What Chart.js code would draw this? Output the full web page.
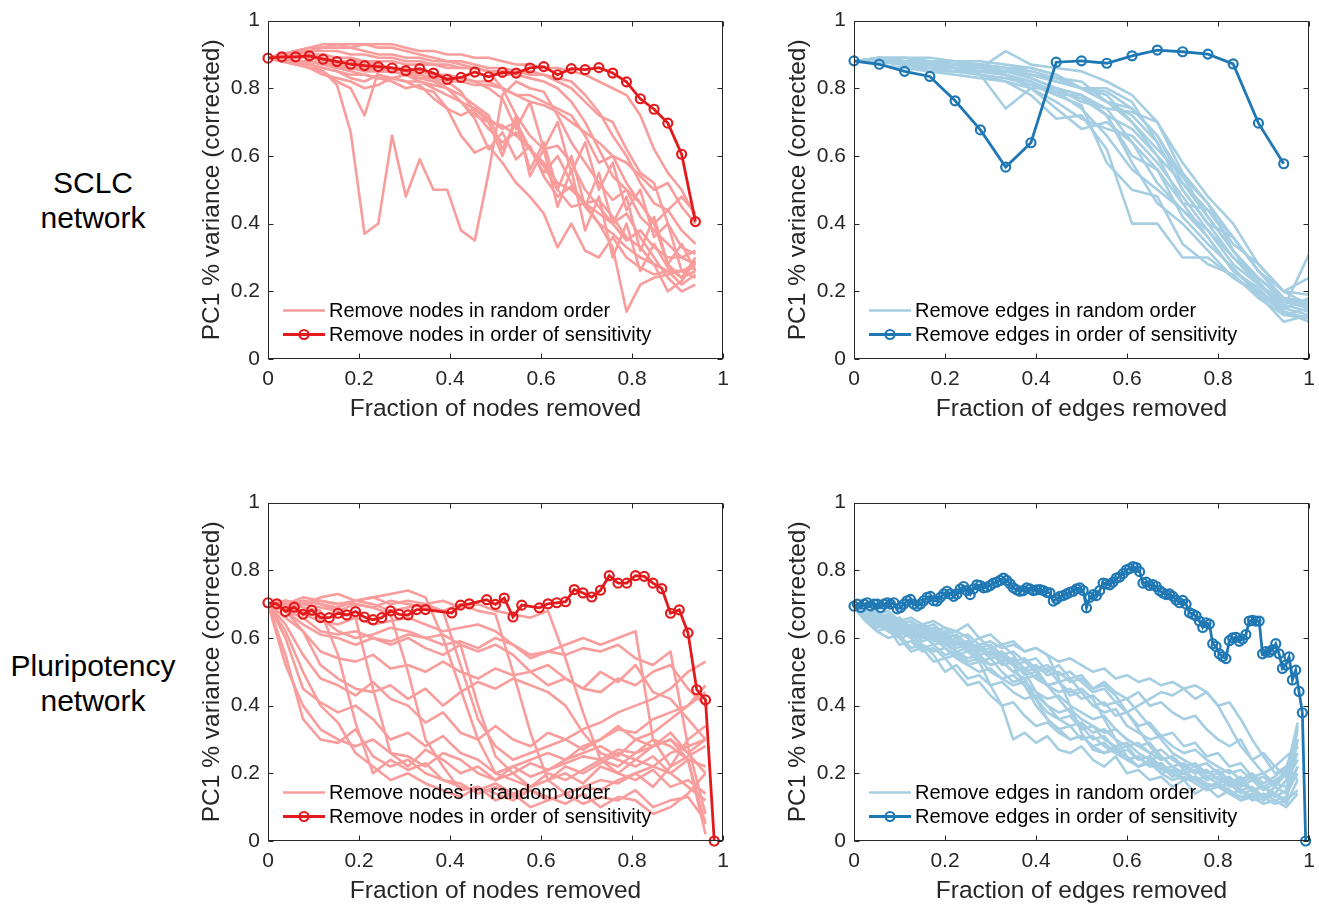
<!DOCTYPE html>
<html>
<head>
<meta charset="utf-8">
<title>PC1 variance under node and edge removal</title>
<script src="https://cdn.jsdelivr.net/npm/chart.js@4.4.1/dist/chart.umd.min.js"></script>
<style>
  body { margin: 0; background: #fff; width: 1319px; height: 908px; position: relative; overflow: hidden;
         font-family: "Liberation Sans", Arial, sans-serif; }
  canvas { position: absolute; }
  .rowLabel { position: absolute; left: 0; width: 186px; text-align: center; font-size: 30px;
              line-height: 35px; color: #000; }
</style>
</head>
<body>
<div class="rowLabel" style="top:165px">SCLC<br>network</div>
<div class="rowLabel" style="top:648px">Pluripotency<br>network</div>
<canvas id="sclcNodes" width="538" height="421" style="left:200px;top:0"></canvas>
<canvas id="sclcEdges" width="538" height="421" style="left:786px;top:0"></canvas>
<canvas id="pluriNodes" width="538" height="421" style="left:200px;top:482px"></canvas>
<canvas id="pluriEdges" width="538" height="421" style="left:786px;top:482px"></canvas>

<script>
// axis ticks shared by every panel
const axisTicks = [0, 0.2, 0.4, 0.6, 0.8, 1];
const axisTickLabels = ['0', '0.2', '0.4', '0.6', '0.8', '1'];

// fraction removed at each step = step / total
const grid = (total, count, every = 1) =>
  Array.from({ length: count }, (_, k) => (k * every) / total);

// ---- SCLC, nodes (33 nodes) ----
const sclcNodeX = grid(33, 32);
const sclcNodeSensitivity = [0.889, 0.893, 0.893, 0.896, 0.886, 0.879, 0.871, 0.867, 0.864, 0.860, 0.852, 0.858,
  0.845, 0.826, 0.832, 0.848, 0.834, 0.847, 0.845, 0.860, 0.864, 0.840, 0.858, 0.855, 0.861, 0.845, 0.819, 0.769,
  0.738, 0.697, 0.605, 0.406];
const sclcNodeRandom = [
  [0.89,0.89,0.88,0.86,0.85,0.81,0.67,0.37,0.40,0.66,0.48,0.59,0.50,0.50,0.38,0.35,0.55,0.78,0.82,0.80,0.79,0.72,0.64,0.58,0.52,0.47,0.50,0.42,0.38,0.34,0.30,0.28],
  [0.89,0.88,0.88,0.87,0.85,0.82,0.80,0.72,0.85,0.86,0.85,0.84,0.83,0.80,0.76,0.72,0.70,0.69,0.66,0.62,0.57,0.50,0.45,0.46,0.40,0.37,0.33,0.30,0.28,0.26,0.26,0.27],
  [0.89,0.90,0.91,0.92,0.93,0.93,0.92,0.93,0.93,0.93,0.92,0.91,0.91,0.90,0.90,0.89,0.89,0.88,0.87,0.87,0.86,0.86,0.85,0.84,0.82,0.80,0.78,0.72,0.62,0.55,0.50,0.42],
  [0.89,0.90,0.91,0.91,0.92,0.92,0.92,0.91,0.90,0.90,0.89,0.89,0.88,0.88,0.87,0.86,0.85,0.80,0.72,0.66,0.62,0.63,0.58,0.50,0.45,0.40,0.43,0.36,0.30,0.24,0.20,0.22],
  [0.89,0.89,0.90,0.90,0.89,0.88,0.88,0.87,0.87,0.86,0.86,0.85,0.84,0.82,0.79,0.73,0.68,0.64,0.67,0.62,0.55,0.60,0.52,0.45,0.40,0.33,0.14,0.22,0.24,0.25,0.26,0.28],
  [0.89,0.89,0.88,0.88,0.87,0.86,0.85,0.84,0.83,0.82,0.80,0.81,0.77,0.74,0.72,0.74,0.70,0.60,0.72,0.54,0.62,0.45,0.56,0.38,0.48,0.30,0.40,0.26,0.34,0.27,0.24,0.26],
  [0.89,0.88,0.87,0.86,0.84,0.83,0.82,0.80,0.81,0.83,0.84,0.83,0.82,0.80,0.76,0.71,0.62,0.67,0.59,0.63,0.54,0.48,0.51,0.46,0.43,0.40,0.35,0.38,0.33,0.30,0.30,0.32],
  [0.89,0.90,0.90,0.91,0.91,0.91,0.90,0.90,0.89,0.89,0.88,0.88,0.87,0.87,0.86,0.86,0.85,0.84,0.84,0.83,0.82,0.80,0.76,0.70,0.62,0.54,0.50,0.46,0.40,0.44,0.38,0.34],
  [0.89,0.89,0.89,0.89,0.89,0.88,0.88,0.88,0.87,0.86,0.85,0.85,0.84,0.84,0.83,0.82,0.80,0.77,0.68,0.76,0.62,0.70,0.55,0.64,0.50,0.58,0.44,0.50,0.36,0.40,0.26,0.24],
  [0.89,0.90,0.90,0.90,0.90,0.89,0.89,0.88,0.88,0.88,0.87,0.87,0.87,0.86,0.86,0.86,0.85,0.85,0.85,0.84,0.84,0.83,0.82,0.78,0.73,0.66,0.60,0.52,0.46,0.44,0.48,0.43],
  [0.89,0.88,0.88,0.87,0.86,0.85,0.84,0.84,0.83,0.83,0.82,0.80,0.79,0.74,0.66,0.61,0.63,0.58,0.52,0.48,0.43,0.33,0.40,0.32,0.30,0.36,0.30,0.27,0.25,0.26,0.22,0.25],
  [0.89,0.89,0.90,0.89,0.88,0.87,0.86,0.86,0.85,0.85,0.84,0.84,0.83,0.83,0.83,0.82,0.82,0.80,0.78,0.78,0.76,0.74,0.72,0.66,0.58,0.60,0.52,0.46,0.40,0.28,0.24,0.30],
  [0.89,0.88,0.88,0.88,0.87,0.87,0.86,0.86,0.86,0.85,0.84,0.82,0.80,0.78,0.76,0.74,0.71,0.68,0.70,0.62,0.58,0.52,0.50,0.46,0.47,0.42,0.36,0.33,0.28,0.20,0.23,0.29],
  [0.89,0.90,0.91,0.92,0.92,0.93,0.93,0.93,0.92,0.92,0.91,0.90,0.89,0.88,0.88,0.87,0.86,0.86,0.85,0.85,0.84,0.82,0.80,0.76,0.72,0.70,0.62,0.55,0.52,0.40,0.33,0.31],
  [0.89,0.88,0.87,0.87,0.86,0.85,0.83,0.82,0.84,0.83,0.82,0.82,0.81,0.80,0.78,0.75,0.72,0.62,0.70,0.56,0.64,0.50,0.60,0.45,0.55,0.40,0.48,0.32,0.42,0.28,0.34,0.26],
  [0.89,0.89,0.88,0.88,0.87,0.86,0.86,0.85,0.85,0.85,0.84,0.83,0.83,0.82,0.82,0.81,0.81,0.80,0.78,0.76,0.75,0.73,0.70,0.67,0.64,0.60,0.58,0.54,0.50,0.52,0.45,0.40]
];

// ---- SCLC, edges ----
const sclcEdgeX = grid(18, 19);
const sclcEdgeSensitivity = [0.881, 0.871, 0.850, 0.835, 0.763, 0.677, 0.567, 0.639, 0.877, 0.881, 0.874, 0.896,
  0.913, 0.908, 0.901, 0.872, 0.697, 0.577];
const sclcEdgeRandom = [
  [0.88,0.89,0.88,0.86,0.85,0.84,0.74,0.80,0.80,0.78,0.72,0.60,0.56,0.46,0.36,0.26,0.20,0.15,0.13],
  [0.88,0.89,0.89,0.89,0.88,0.88,0.87,0.86,0.84,0.80,0.76,0.72,0.64,0.50,0.40,0.30,0.22,0.17,0.15],
  [0.88,0.88,0.87,0.85,0.84,0.83,0.82,0.78,0.71,0.72,0.62,0.40,0.40,0.30,0.30,0.24,0.19,0.14,0.12],
  [0.88,0.88,0.87,0.86,0.86,0.86,0.91,0.87,0.86,0.85,0.82,0.78,0.70,0.55,0.46,0.36,0.26,0.18,0.17],
  [0.88,0.89,0.88,0.88,0.87,0.86,0.85,0.83,0.80,0.76,0.74,0.73,0.70,0.58,0.48,0.40,0.28,0.20,0.16],
  [0.88,0.88,0.88,0.87,0.86,0.85,0.84,0.81,0.78,0.75,0.58,0.50,0.48,0.34,0.28,0.25,0.18,0.13,0.12],
  [0.88,0.88,0.88,0.88,0.88,0.87,0.86,0.84,0.82,0.80,0.76,0.74,0.66,0.52,0.42,0.32,0.22,0.15,0.31],
  [0.88,0.88,0.87,0.87,0.86,0.84,0.82,0.80,0.76,0.71,0.68,0.66,0.58,0.48,0.38,0.28,0.22,0.16,0.14],
  [0.88,0.88,0.87,0.86,0.85,0.85,0.84,0.82,0.78,0.78,0.72,0.68,0.60,0.46,0.44,0.36,0.26,0.18,0.15],
  [0.88,0.88,0.88,0.88,0.87,0.87,0.86,0.86,0.84,0.80,0.78,0.70,0.62,0.54,0.46,0.32,0.24,0.17,0.16],
  [0.88,0.88,0.88,0.87,0.86,0.86,0.85,0.83,0.80,0.78,0.74,0.64,0.56,0.42,0.34,0.27,0.19,0.11,0.13],
  [0.88,0.89,0.89,0.88,0.87,0.86,0.86,0.84,0.83,0.80,0.80,0.76,0.64,0.50,0.40,0.36,0.26,0.20,0.24],
  [0.88,0.88,0.88,0.87,0.87,0.86,0.84,0.82,0.79,0.77,0.72,0.58,0.46,0.40,0.32,0.24,0.20,0.15,0.18],
  [0.88,0.88,0.87,0.87,0.86,0.85,0.85,0.84,0.82,0.80,0.79,0.74,0.66,0.54,0.42,0.32,0.23,0.14,0.11],
  [0.88,0.89,0.88,0.87,0.86,0.85,0.84,0.80,0.74,0.68,0.70,0.64,0.52,0.44,0.38,0.30,0.24,0.18,0.16],
  [0.88,0.88,0.89,0.88,0.87,0.87,0.86,0.85,0.83,0.82,0.76,0.70,0.60,0.52,0.44,0.34,0.28,0.20,0.19],
  [0.88,0.87,0.86,0.85,0.85,0.84,0.83,0.81,0.79,0.74,0.66,0.56,0.50,0.44,0.36,0.26,0.21,0.13,0.15]
];

// ---- Pluripotency, nodes (52 nodes); null = step with no reading ----
const pluriNodeX = grid(52, 52);
const pluriNodeSensitivity = [0.704, 0.701, 0.678, 0.691, 0.670, 0.682, 0.660, 0.660, 0.673, 0.668, 0.678, 0.662,
  0.654, 0.660, 0.680, 0.670, 0.668, 0.684, 0.684, null, null, 0.674, 0.697, 0.701, null, 0.713, 0.699, 0.718,
  0.662, 0.697, null, 0.689, 0.701, 0.704, 0.707, 0.743, 0.733, 0.721, 0.741, 0.784, 0.762, 0.762, 0.784, 0.782,
  0.762, 0.746, 0.673, 0.683, 0.615, 0.447, 0.417, 0];
const pluriNodeRandomX = grid(52, 26, 2);
const pluriNodeRandom = [
  [0.70,0.55,0.36,0.30,0.29,0.33,0.25,0.22,0.24,0.20,0.18,0.16,0.15,0.17,0.14,0.16,0.18,0.20,0.17,0.22,0.20,0.24,0.22,0.26,0.28,0.30],
  [0.70,0.60,0.45,0.41,0.38,0.40,0.36,0.30,0.32,0.28,0.31,0.26,0.24,0.20,0.22,0.19,0.21,0.23,0.25,0.24,0.27,0.26,0.30,0.28,0.24,0.05],
  [0.70,0.71,0.69,0.68,0.55,0.35,0.20,0.24,0.21,0.23,0.18,0.17,0.14,0.16,0.13,0.15,0.12,0.14,0.16,0.15,0.18,0.20,0.16,0.22,0.30,0.34],
  [0.70,0.66,0.62,0.52,0.48,0.45,0.44,0.46,0.42,0.45,0.40,0.44,0.47,0.45,0.48,0.46,0.44,0.40,0.32,0.26,0.24,0.22,0.25,0.20,0.16,0.12],
  [0.70,0.68,0.62,0.56,0.54,0.53,0.55,0.51,0.52,0.50,0.53,0.50,0.48,0.51,0.49,0.50,0.52,0.48,0.45,0.44,0.48,0.46,0.50,0.52,0.45,0.40],
  [0.70,0.68,0.64,0.61,0.60,0.58,0.60,0.59,0.61,0.60,0.58,0.59,0.57,0.60,0.58,0.55,0.56,0.58,0.60,0.58,0.60,0.62,0.30,0.22,0.25,0.28],
  [0.70,0.71,0.70,0.72,0.73,0.71,0.72,0.73,0.74,0.72,0.60,0.45,0.30,0.20,0.18,0.16,0.20,0.18,0.21,0.24,0.22,0.26,0.28,0.30,0.26,0.20],
  [0.70,0.69,0.70,0.71,0.70,0.70,0.69,0.71,0.70,0.69,0.68,0.70,0.68,0.67,0.50,0.32,0.18,0.14,0.16,0.18,0.17,0.20,0.22,0.20,0.24,0.02],
  [0.70,0.70,0.68,0.66,0.62,0.60,0.61,0.63,0.62,0.60,0.61,0.58,0.40,0.25,0.20,0.23,0.21,0.24,0.26,0.28,0.25,0.30,0.32,0.36,0.40,0.44],
  [0.70,0.71,0.70,0.69,0.68,0.66,0.45,0.26,0.22,0.27,0.24,0.20,0.22,0.18,0.20,0.16,0.18,0.22,0.20,0.23,0.26,0.24,0.28,0.30,0.24,0.22],
  [0.70,0.69,0.67,0.65,0.64,0.66,0.64,0.65,0.66,0.64,0.62,0.63,0.64,0.62,0.58,0.54,0.56,0.55,0.57,0.56,0.58,0.54,0.52,0.56,0.28,0.08],
  [0.70,0.52,0.40,0.33,0.30,0.28,0.30,0.26,0.25,0.22,0.26,0.24,0.20,0.18,0.22,0.24,0.26,0.24,0.28,0.30,0.33,0.32,0.36,0.38,0.40,0.46],
  [0.70,0.64,0.55,0.48,0.46,0.43,0.47,0.42,0.40,0.35,0.38,0.32,0.30,0.34,0.30,0.28,0.32,0.30,0.27,0.30,0.34,0.30,0.28,0.32,0.26,0.30],
  [0.70,0.70,0.71,0.70,0.69,0.71,0.70,0.68,0.69,0.70,0.71,0.69,0.70,0.68,0.67,0.66,0.68,0.54,0.38,0.24,0.20,0.18,0.21,0.16,0.18,0.14],
  [0.70,0.69,0.71,0.70,0.68,0.70,0.69,0.67,0.50,0.30,0.22,0.15,0.16,0.12,0.14,0.10,0.12,0.14,0.11,0.13,0.12,0.15,0.10,0.12,0.13,0.06],
  [0.70,0.62,0.50,0.40,0.35,0.26,0.22,0.18,0.20,0.17,0.15,0.13,0.16,0.14,0.12,0.15,0.13,0.11,0.14,0.10,0.13,0.12,0.08,0.10,0.14,0.20],
  [0.70,0.68,0.66,0.62,0.61,0.62,0.60,0.58,0.60,0.57,0.55,0.58,0.56,0.58,0.55,0.50,0.46,0.48,0.45,0.50,0.47,0.52,0.44,0.42,0.36,0.30],
  [0.70,0.70,0.72,0.71,0.70,0.71,0.72,0.70,0.71,0.70,0.68,0.52,0.36,0.28,0.24,0.26,0.28,0.30,0.33,0.35,0.38,0.40,0.42,0.45,0.50,0.53]
];

// ---- Pluripotency, edges (137 steps) ----
const pluriEdgeX = grid(137, 137);
const pluriEdgeSensitivity = [
  0.694,0.700,0.690,0.700,0.704,0.695,0.700,0.700,0.690,0.700,
  0.704,0.700,0.704,0.686,0.690,0.700,0.710,0.714,0.700,0.694,
  0.700,0.710,0.720,0.723,0.710,0.709,0.720,0.730,0.738,0.730,
  0.723,0.730,0.745,0.752,0.740,0.728,0.745,0.757,0.755,0.748,
  0.750,0.755,0.762,0.765,0.770,0.777,0.770,0.760,0.748,0.742,
  0.738,0.740,0.748,0.745,0.740,0.742,0.743,0.740,0.735,0.733,
  0.709,0.715,0.723,0.725,0.730,0.735,0.738,0.745,0.748,0.740,
  0.689,0.720,0.728,0.725,0.740,0.762,0.760,0.757,0.765,0.777,
  0.780,0.790,0.801,0.805,0.811,0.808,0.796,0.762,0.765,0.755,
  0.758,0.752,0.740,0.733,0.728,0.730,0.723,0.712,0.704,0.711,
  0.700,0.675,0.670,0.665,0.650,0.631,0.645,0.641,0.583,0.575,
  0.553,0.545,0.539,0.592,0.600,0.602,0.590,0.597,0.610,0.650,
  0.652,0.650,0.650,0.553,0.560,0.558,0.565,0.583,0.553,0.510,
  0.520,0.544,0.476,0.505,0.442,0.379,0];
const pluriEdgeRandomX = grid(40, 40);
const pluriEdgeRandom = [
  [.69,.66,.64,.62,.60,.61,.58,.56,.57,.54,.52,.53,.46,.40,.30,.32,.29,.31,.27,.26,.28,.24,.22,.25,.20,.21,.18,.19,.16,.18,.14,.16,.13,.15,.12,.14,.12,.16,.20,.30],
  [.69,.68,.67,.68,.65,.66,.64,.65,.63,.62,.64,.60,.61,.58,.59,.56,.57,.55,.53,.54,.52,.50,.51,.48,.49,.47,.48,.46,.47,.45,.46,.44,.40,.41,.36,.30,.25,.20,.22,.18],
  [.69,.67,.66,.64,.65,.62,.63,.61,.62,.58,.59,.57,.58,.55,.56,.53,.54,.50,.52,.48,.49,.45,.47,.44,.42,.44,.40,.41,.38,.36,.37,.33,.30,.28,.30,.24,.26,.22,.25,.28],
  [.69,.68,.66,.67,.64,.65,.62,.63,.60,.61,.58,.60,.57,.58,.55,.50,.44,.40,.36,.37,.33,.34,.30,.28,.29,.26,.24,.25,.22,.20,.21,.18,.19,.16,.17,.15,.16,.14,.18,.26],
  [.69,.65,.62,.63,.58,.59,.56,.57,.54,.55,.52,.50,.51,.48,.46,.47,.44,.42,.43,.40,.38,.36,.37,.33,.30,.28,.29,.25,.22,.23,.20,.21,.18,.19,.16,.18,.15,.17,.16,.22],
  [.69,.68,.67,.65,.66,.63,.64,.62,.63,.60,.61,.58,.59,.57,.58,.56,.57,.55,.48,.40,.32,.27,.26,.28,.24,.25,.22,.23,.20,.21,.18,.19,.17,.18,.15,.16,.13,.14,.12,.30],
  [.69,.67,.65,.66,.62,.60,.61,.58,.59,.56,.54,.55,.52,.53,.50,.51,.48,.46,.47,.44,.45,.42,.36,.30,.25,.22,.24,.20,.21,.18,.19,.17,.16,.17,.14,.15,.13,.16,.14,.20],
  [.69,.68,.66,.64,.65,.62,.60,.61,.58,.56,.57,.54,.52,.53,.50,.48,.49,.46,.44,.45,.42,.43,.40,.41,.38,.40,.42,.44,.43,.45,.42,.44,.40,.34,.28,.24,.20,.22,.19,.24],
  [.69,.66,.65,.62,.63,.60,.57,.58,.55,.56,.53,.54,.50,.48,.49,.46,.42,.38,.36,.34,.35,.32,.33,.30,.28,.29,.26,.24,.25,.22,.20,.21,.18,.17,.19,.15,.16,.13,.15,.33],
  [.69,.66,.62,.60,.61,.57,.58,.55,.50,.52,.48,.49,.46,.47,.44,.42,.43,.40,.38,.39,.36,.34,.32,.33,.30,.28,.26,.27,.24,.22,.23,.20,.21,.18,.17,.19,.16,.18,.20,.35],
  [.69,.68,.67,.66,.64,.65,.63,.64,.61,.62,.60,.56,.57,.54,.52,.46,.40,.36,.33,.34,.30,.31,.28,.26,.27,.24,.25,.22,.19,.20,.18,.16,.17,.15,.13,.14,.12,.14,.11,.18],
  [.69,.67,.66,.64,.62,.63,.60,.61,.58,.59,.56,.57,.54,.55,.52,.53,.50,.51,.47,.48,.44,.40,.38,.39,.34,.32,.30,.31,.28,.26,.27,.24,.22,.20,.21,.18,.19,.16,.22,.28],
  [.69,.67,.64,.65,.61,.62,.59,.60,.57,.55,.56,.53,.54,.50,.47,.48,.42,.36,.33,.30,.31,.28,.29,.26,.24,.25,.22,.23,.20,.18,.19,.16,.17,.14,.15,.12,.13,.11,.12,.15],
  [.69,.68,.65,.66,.63,.64,.61,.62,.59,.60,.57,.58,.55,.56,.53,.54,.51,.52,.49,.50,.47,.44,.45,.41,.42,.38,.34,.30,.26,.24,.22,.23,.20,.21,.18,.20,.17,.19,.22,.30],
  [.69,.67,.68,.65,.66,.63,.64,.60,.61,.58,.59,.55,.56,.52,.53,.49,.50,.46,.47,.43,.44,.40,.41,.37,.38,.34,.35,.31,.32,.28,.29,.25,.26,.22,.23,.19,.20,.17,.21,.34],
  [.69,.66,.63,.64,.60,.56,.57,.53,.54,.50,.46,.47,.43,.40,.41,.37,.34,.35,.32,.30,.31,.28,.26,.27,.24,.22,.23,.20,.18,.19,.17,.15,.16,.14,.12,.13,.11,.12,.10,.14],
  [.69,.68,.66,.67,.64,.62,.63,.60,.58,.59,.56,.57,.54,.55,.52,.50,.51,.46,.42,.38,.34,.30,.31,.27,.28,.24,.25,.21,.22,.18,.19,.16,.17,.14,.15,.13,.14,.12,.13,.22],
  [.69,.67,.65,.63,.64,.61,.62,.59,.60,.57,.58,.55,.56,.53,.54,.51,.52,.49,.50,.47,.48,.45,.46,.43,.38,.33,.28,.24,.25,.21,.22,.19,.20,.17,.18,.15,.16,.14,.18,.24]
];

const pink = '#f89d9c', red = '#e31a1c', lightBlue = '#a6cee3', blue = '#1f78b4';
const ink = '#262626';
const fontFamily = '"Liberation Sans", Arial, sans-serif';

const toPoints = (xs, ys) => ys.map((y, i) => ({ x: xs[i], y }));

// box round the plot with inward tick marks on all four sides
const axesBox = {
  id: 'axesBox',
  afterDatasetsDraw(chart) {
    const { ctx, chartArea: { left, right, top, bottom }, scales: { x, y } } = chart;
    const l = Math.round(left) + 0.5, r = Math.round(right) - 0.5;
    const t = Math.round(top) + 0.5, b = Math.round(bottom) - 0.5;
    ctx.save();
    ctx.strokeStyle = ink;
    ctx.lineWidth = 1;
    ctx.strokeRect(l, t, r - l, b - t);
    ctx.beginPath();
    axisTicks.forEach(v => {
      const px = Math.round(x.getPixelForValue(v)) + 0.5;
      const py = Math.round(y.getPixelForValue(v)) + 0.5;
      ctx.moveTo(px, b); ctx.lineTo(px, b - 5);
      ctx.moveTo(px, t); ctx.lineTo(px, t + 5);
      ctx.moveTo(l, py); ctx.lineTo(l + 5, py);
      ctx.moveTo(r, py); ctx.lineTo(r - 5, py);
    });
    ctx.stroke();
    ctx.restore();
  }
};

// two-line legend sitting inside the lower left of the plot, no frame
const cornerLegend = {
  id: 'cornerLegend',
  afterDatasetsDraw(chart, args, opts) {
    const { ctx, chartArea } = chart;
    const x0 = chartArea.left + 15, x1 = x0 + 42;
    opts.items.forEach((item, i) => {
      const y = chartArea.bottom - 48.5 + i * 24;
      ctx.save();
      ctx.strokeStyle = item.color;
      ctx.lineWidth = item.marker ? 2.8 : 2.6;
      ctx.beginPath();
      ctx.moveTo(x0, y);
      ctx.lineTo(x1, y);
      ctx.stroke();
      if (item.marker) {
        ctx.lineWidth = 2.2;
        ctx.beginPath();
        ctx.arc((x0 + x1) / 2, y, 4.5, 0, Math.PI * 2);
        ctx.stroke();
      }
      ctx.fillStyle = '#000';
      ctx.font = '20px ' + fontFamily;
      ctx.textBaseline = 'middle';
      ctx.fillText(item.text, x1 + 4, y + 1);
      ctx.restore();
    });
  }
};

function axis(titleText, isX) {
  return {
    type: 'linear',
    min: 0,
    max: 1,
    afterBuildTicks: s => { s.ticks = axisTicks.map(value => ({ value })); },
    afterFit: s => { if (isX) s.height = 62; else s.width = 68; },
    grid: { display: false, drawTicks: false },
    border: { display: false },
    ticks: {
      padding: 8,
      color: ink,
      autoSkip: false,
      maxRotation: 0,
      font: { size: 21, family: fontFamily },
      callback: (v, i) => axisTickLabels[i]
    },
    title: {
      display: true,
      text: titleText,
      color: ink,
      padding: 0,
      font: { size: 24.5, family: fontFamily, lineHeight: 1 }
    }
  };
}

function drawPanel(canvasId, what, randX, randRuns, randColor, sensX, sensY, sensColor) {
  const datasets = [{
    label: 'Remove ' + what + ' in order of sensitivity',
    data: toPoints(sensX, sensY),
    borderColor: sensColor,
    borderWidth: 2.8,
    pointRadius: 4.5,
    pointBorderWidth: 2.2,
    pointBorderColor: sensColor,
    pointBackgroundColor: 'rgba(0,0,0,0)',
    spanGaps: true,
    clip: false,
    order: 0
  }];
  randRuns.forEach((run, i) => {
    datasets.push({
      label: i === 0 ? 'Remove ' + what + ' in random order' : '',
      data: toPoints(randX, run),
      borderColor: randColor,
      borderWidth: 2.6,
      borderJoinStyle: 'round',
      pointRadius: 0,
      order: 1
    });
  });

  new Chart(document.getElementById(canvasId), {
    type: 'line',
    data: { datasets },
    options: {
      responsive: false,
      animation: false,
      devicePixelRatio: 1,
      events: [],
      layout: { padding: { top: 15, right: 15, bottom: 0, left: 0 } },
      scales: {
        x: axis('Fraction of ' + what + ' removed', true),
        y: axis('PC1 % variance (corrected)', false)
      },
      plugins: {
        legend: { display: false },
        tooltip: { enabled: false },
        cornerLegend: {
          items: [
            { text: 'Remove ' + what + ' in random order', color: randColor, marker: false },
            { text: 'Remove ' + what + ' in order of sensitivity', color: sensColor, marker: true }
          ]
        }
      }
    },
    plugins: [axesBox, cornerLegend]
  });
}

drawPanel('sclcNodes', 'nodes', sclcNodeX, sclcNodeRandom, pink, sclcNodeX, sclcNodeSensitivity, red);
drawPanel('sclcEdges', 'edges', sclcEdgeX, sclcEdgeRandom, lightBlue, sclcEdgeX, sclcEdgeSensitivity, blue);
drawPanel('pluriNodes', 'nodes', pluriNodeRandomX, pluriNodeRandom, pink, pluriNodeX, pluriNodeSensitivity, red);
drawPanel('pluriEdges', 'edges', pluriEdgeRandomX, pluriEdgeRandom, lightBlue, pluriEdgeX, pluriEdgeSensitivity, blue);
</script>
</body>
</html>
